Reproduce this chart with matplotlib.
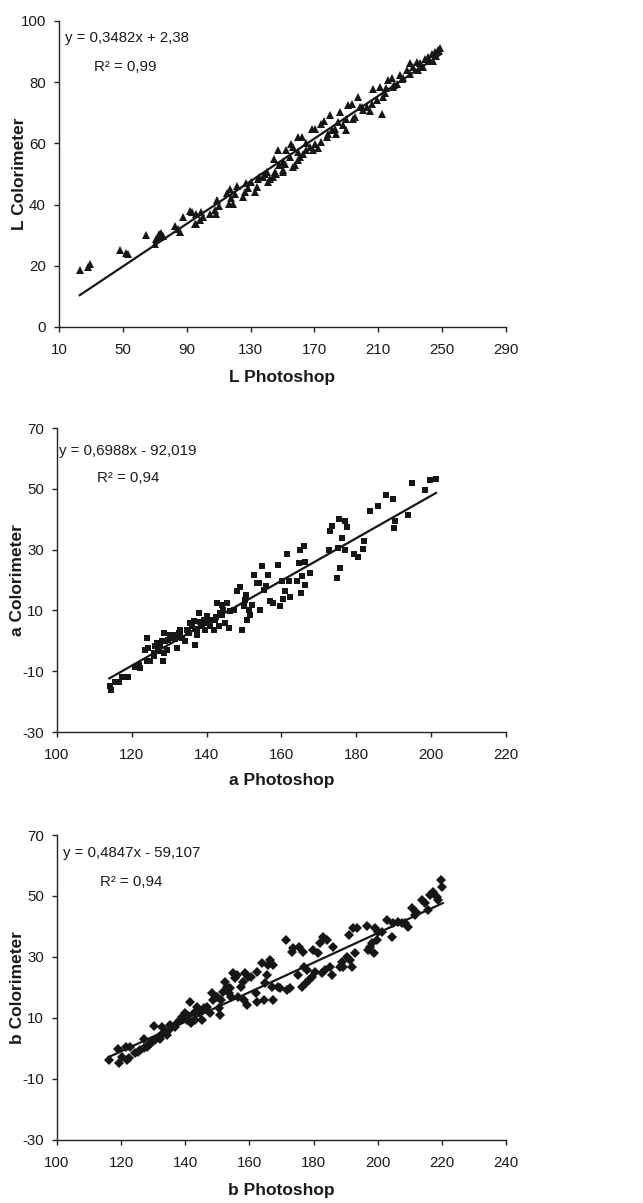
import matplotlib
matplotlib.use("Agg")
import matplotlib.pyplot as plt
import numpy as np

# ---------------- data ----------------
L_photoshop = [23, 28.2, 29.2, 48, 52.2, 53, 64.7, 70, 71, 72.7, 74, 73, 75,
               82.5, 84.6, 85.6, 87.7, 91.9, 93, 96, 96, 95, 98, 99, 100,
               104.4, 107.6, 108.6, 109, 115, 117, 116.6, 119, 120, 121.6,
               125.3, 126.4, 128.5, 127.4, 132.6, 133.7, 134.7, 137.9, 139,
               141, 142, 144, 145, 144.6, 147.3, 147.9, 146, 150, 151.5, 152,
               154.6, 155.6, 156.7, 156.7, 157.7, 159.4, 162, 159.8, 160.9, 163,
               165, 167, 168.2, 169.2, 170.3, 170.3, 174.4, 175.9, 174.4, 177.6,
               179.7, 178.6, 180.7, 182.8, 183.8, 185.9, 188, 190, 191.2, 193.2,
               194.3, 195.3, 197.4, 198.5, 200.6, 202.6, 205.8, 206.8, 208.9,
               211, 212, 213.1, 214.1, 216.2, 218.3, 219.4, 221.5, 223.6, 225.7,
               227.8, 229.8, 231.9, 234, 236.1, 237.1, 239.2, 241.3, 243.4, 245.5,
               247.6, 248.6,
               135, 140, 150, 165, 185, 200, 215, 225, 235, 242, 246,
               150, 160, 172, 190, 205, 220, 230, 238, 244, 130, 118, 110]
L_colorimeter = [18.7, 19.6, 20.7, 25.3, 24.2, 23.7, 30, 27.2, 28.9, 30.5, 30.7, 29.4, 29.6,
                 32.9, 32.1, 31, 35.9, 37.9, 37.5, 37, 33.8, 33.5, 34.9, 37.6, 35.9,
                 37, 38.1, 37, 41.4, 43.8, 45.2, 40.3, 40.1, 43.6, 46,
                 42.5, 44.1, 45.5, 47, 44.1, 45.8, 48.5, 49, 50.1,
                 47.4, 48.5, 49, 50.7, 55, 57.7, 52.8, 50.1, 51.2, 53.4, 57.7,
                 55.6, 59.9, 58.8, 52.3, 52.8, 62.1, 62.1, 57.2, 55.6, 56.6,
                 57.7, 58.8, 64.8, 57.7, 59.9, 64.8, 66.4, 67.2, 60.5, 62.1,
                 69.2, 63.2, 64.3, 64.8, 63.2, 70.3, 65.9, 68.1, 72.4, 73,
                 68.1, 68.6, 75.2, 71.9, 70.8, 71.9, 73, 77.9, 74.1,
                 78.4, 69.7, 75.2, 76.3, 80.6, 81.2, 78.4, 79.5, 82.2, 81.2,
                 83.9, 86.1, 85, 86.6, 86.1, 85, 87.7, 88.2, 89.3, 89.9,
                 90.4, 91,
                 49, 50.5, 54, 60, 67, 72, 78, 81, 84, 87, 88.5,
                 50.5, 54.5, 58.5, 64.5, 70.5, 79, 82.5, 85, 87, 47.5, 42, 39.5]

a_photoshop = [114.2, 114.4, 115.6, 116.5, 117.4, 119.1, 120.9, 122.3, 121.8,
               123.6, 124, 124.3, 124, 124.9, 125.8, 126.3, 126.7, 127.2, 127.6,
               128, 128.5, 128.3, 128.5, 129.4, 129.8, 130.3, 131.2, 131.6, 132,
               132.5, 132.9, 133.4, 134.3, 134.7, 135.2, 135.6, 136.1, 136.5, 137,
               137.4, 137.4, 138, 138.3, 138.7, 139.2, 139.6, 140.1, 140.5, 140.9,
               141.4, 141.9, 142.3, 142.7, 143.2, 143.6, 144.1, 144.5, 145, 145.4,
               145.9, 146.3, 147.2, 148.1, 148.8, 149.4, 149.9, 150.3, 150.6,
               150.8, 151.2, 151.6, 152.1, 152.7, 153.4, 154.1, 154.3, 154.8,
               155.2, 155.9, 156.5, 157, 157.7, 159, 159.5, 160.1, 160.4, 161,
               161.4, 162, 162.3, 164.1, 164.8, 165, 165.3, 165.4, 166.1, 166.3,
               166.3, 167.7, 172.8, 172.9, 173.5, 174.8, 175.2, 175.5, 175.7,
               176.1, 177, 177, 177.6, 179.3, 180.4, 181.7, 182.1, 183.7, 185.8,
               187.9, 189.9, 190.1, 190.4, 193.7, 194.8, 198.4, 199.6, 201.2,
               126, 127, 129, 130.5, 133, 135, 136.8, 138.5, 139.8, 141, 142.5, 144]
a_colorimeter = [-15, -16.3, -13.7, -13.6, -11.9, -11.9, -8.7, -8.9, -7.9,
                 -3.1, 0.9, -2.4, -6.8, -6.8, -5.1, -1.8, -0.7, -3.5, -1.8,
                 -0.2, 2.6, -6.8, -4, -2.9, 0.4, 2, 2, 0.6, -2.4,
                 2.6, 3.7, 0.9, -0.2, 3.7, 2.6, 5.9, 4.8, 6.4, -1.3,
                 2, 3.7, 9.1, 6.1, 4.8, 7, 3.7, 8.1, 5.9, 4.8,
                 7, 3.7, 7, 12.4, 4.8, 9.1, 11.9, 10.2, 5.9, 12.4,
                 4.2, 9.7, 10.2, 16.3, 17.7, 3.7, 11.3, 13.5, 15.2,
                 7, 10.2, 8.6, 11.9, 21.8, 19, 19, 10.2, 24.5,
                 16.8, 17.9, 21.8, 13, 12.4, 25, 11.3, 19.6, 13.7, 16.3,
                 28.7, 19.6, 14.3, 19.6, 25.6, 29.8, 15.7, 21.2, 31.3, 18.5,
                 25.8, 22.3, 29.8, 36, 37.7, 20.7, 30.5, 40.1, 23.9,
                 33.8, 39.5, 30, 37.4, 28.7, 27.6, 30.2, 32.7, 42.6, 44.2,
                 48.1, 46.8, 37.1, 39.3, 41.5, 51.9, 49.5, 53, 53.3,
                 -4, -2.5, 0, 1, 1.5, 3, 4, 5, 6, 6.5, 8, 8.5]

b_photoshop = [116.1, 118.9, 119.2, 120.2, 121.6, 121.8, 122.6, 122.8,
               124.4, 125.4, 125.9, 127, 127, 128, 128.6, 129.1, 129.6, 130.1, 130.6,
               131.7, 132.2, 132.7, 133, 133.7, 134.3, 134.8, 135.3,
               136.9, 137.4, 138.4, 138.9, 139.5, 140, 140.5, 141, 141.5, 141.7,
               142.6, 143.1, 143.6, 144.7, 145.2, 145.9, 146.7, 147.8, 148.3,
               148.8, 149.8, 150.4, 150.9, 151.1, 151.9, 152.4, 153, 153.5, 154,
               154.2, 155, 155.6, 156.1, 156.6, 157.3, 157.9, 158.4, 158.7,
               159.2, 159.7, 160.4, 162.1, 162.3, 162.3, 163.9, 164.4, 164.9,
               165.4, 165.9, 166.5, 167, 167.3, 167.5, 169, 169.6, 171.4, 171.7,
               172.7, 173.2, 173.7, 175.3, 175.6, 176.3, 176.8, 177, 177.7, 177.9,
               178.7, 179.4, 179.9, 180.5, 181.5, 182, 182.6, 183.1, 183.6, 184.1,
               185.2, 185.7, 186.2, 188.3, 188.8, 189.3, 190.3, 190.9, 191.4,
               191.9, 192.4, 192.9, 193.5, 196.6, 197.1, 197.6, 198.1, 198.7,
               199.2, 199.7, 200.2, 201.2, 202.8, 204.4, 204.9, 206.4, 207.5,
               208.5, 209.6, 210.6, 211.6, 212.1, 213.7, 214.7, 215.8, 216.3,
               217.3, 218.4, 218.9, 219.6, 220.2]
b_colorimeter = [-3.8, -0.3, -4.6, -2.7, 0.6, -3.8, -3.2, 0.6,
                 -1.6, -1, -0.5, 3, 0.05, 0.6, 1.1, 1.7, 2.2, 7.4, 2.8,
                 3.9, 3, 7.2, 5, 5.5, 4.4, 6.1, 7.7,
                 7.2, 8.3, 9.3, 10.4, 9.9, 11.5, 9.3, 10.7, 15.4, 8.5,
                 11.5, 9.3, 13.7, 11.5, 9.3, 13.2, 13.7, 11.5, 18.1,
                 15.9, 17, 13.2, 11, 15.9, 18.6, 21.9, 20.3, 18.1, 19.7,
                 17, 24.6, 23, 24.1, 17, 20.3, 21.9, 15.9, 24.6,
                 14.3, 23.5, 23.5, 18.1, 25.2, 15.4, 27.9, 15.9, 21.4,
                 24.1, 27.4, 29, 20.3, 15.9, 27.4, 20.3, 19.7, 35.6, 19.2,
                 19.7, 31.7, 32.8, 24.1, 33.3, 20.3, 31.7, 26.8, 21.4, 25.7,
                 22.5, 23.5, 32.3, 25.2, 31.2, 34.5, 24.6, 36.7, 25.7, 35.6,
                 26.8, 24.1, 33.3, 26.8, 28.5, 26.8, 30.1, 37.2, 29,
                 26.8, 39.4, 31.2, 39.4, 40, 32.3, 33.3, 34.5, 31.2,
                 39.4, 35.6, 38.3, 38.3, 42.1, 36.7, 41, 41.6, 41,
                 41, 39.9, 46, 43.8, 44.9, 48.7, 47.6, 45.4, 50.3,
                 51.4, 49.8, 48.7, 55.2, 52.8]

# regression equations as printed on the chart
fits = [(0.3482, 2.38, 23, 249.5), (0.6988, -92.019, 114, 201.3), (0.4847, -59.107, 116.2, 220.3)]
eq_texts = ["y = 0,3482x + 2,38", "y = 0,6988x - 92,019", "y = 0,4847x - 59,107"]
r2_texts = ["R² = 0,99", "R² = 0,94", "R² = 0,94"]
xlabels = ["L Photoshop", "a Photoshop", "b Photoshop"]
ylabels = ["L Colorimeter", "a Colorimeter", "b Colorimeter"]
xticks = [list(range(10, 291, 40)), list(range(100, 221, 20)), list(range(100, 241, 20))]
yticks = [list(range(0, 101, 20)), list(range(-30, 71, 20)), list(range(-30, 71, 20))]

# ---------------- style ----------------
plt.rcParams["axes.unicode_minus"] = False
reg_family = ["Liberation Sans", "DejaVu Sans"]
bold_family = ["Liberation Sans", "DejaVu Sans"]
ink = "#161616"
txt = "#1a1a1a"
fs_small = 10.8

fig = plt.figure(figsize=(6.43, 12.03), dpi=100)
positions = [
    [0.0918, 0.7282, 0.6952, 0.2544],
    [0.0886, 0.3915, 0.6983, 0.2527],
    [0.0886, 0.0524, 0.6983, 0.2535],
]
data = [(L_photoshop, L_colorimeter, "^", 6.3),
        (a_photoshop, a_colorimeter, "s", 5.0),
        (b_photoshop, b_colorimeter, "D", 4.7)]
eq_pos = [((0.013, 0.944), (0.078, 0.85)),
          ((0.004, 0.924), (0.089, 0.836)),
          ((0.013, 0.941), (0.096, 0.846))]
xlab_y = [-0.14, -0.135, -0.141]

for i in range(3):
    ax = fig.add_axes(positions[i])
    xs, ys, mk, ms = data[i]
    ax.plot(xs, ys, linestyle="none", marker=mk, markersize=ms,
            color=ink, markeredgewidth=0, zorder=3)
    m, b, x0, x1 = fits[i]
    lx = np.array([x0, x1])
    ax.plot(lx, m * lx + b, color=ink, linewidth=1.6, zorder=4)

    ax.set_xlim(xticks[i][0], xticks[i][-1])
    ax.set_ylim(yticks[i][0], yticks[i][-1])
    ax.set_xticks(xticks[i])
    ax.set_yticks(yticks[i])
    for s in ("top", "right"):
        ax.spines[s].set_visible(False)
    for s in ("left", "bottom"):
        ax.spines[s].set_linewidth(1.0)
        ax.spines[s].set_color("#222222")
    ax.tick_params(axis="both", direction="out", length=3.5, width=1.0, color="#222222")
    ax.tick_params(axis="x", pad=8)
    ax.tick_params(axis="y", pad=6)
    for lab in ax.get_xticklabels() + ax.get_yticklabels():
        lab.set_fontfamily(reg_family)
        lab.set_fontsize(fs_small)
        lab.set_color(txt)

    ax.set_xlabel(xlabels[i], fontfamily=bold_family, fontweight="bold", fontsize=12.5, color=txt)
    ax.set_ylabel(ylabels[i], fontfamily=bold_family, fontweight="bold", fontsize=12.5, color=txt)
    ax.xaxis.set_label_coords(0.5, xlab_y[i])
    ax.yaxis.set_label_coords(-0.072, 0.5)

    (ex, ey), (rx, ry) = eq_pos[i]
    ax.text(ex, ey, eq_texts[i], transform=ax.transAxes, ha="left", va="center",
            fontfamily=reg_family, fontsize=fs_small, color=txt)
    ax.text(rx, ry, r2_texts[i], transform=ax.transAxes, ha="left", va="center",
            fontfamily=reg_family, fontsize=fs_small, color=txt)

fig.savefig("out.png", dpi=100, facecolor="white")
